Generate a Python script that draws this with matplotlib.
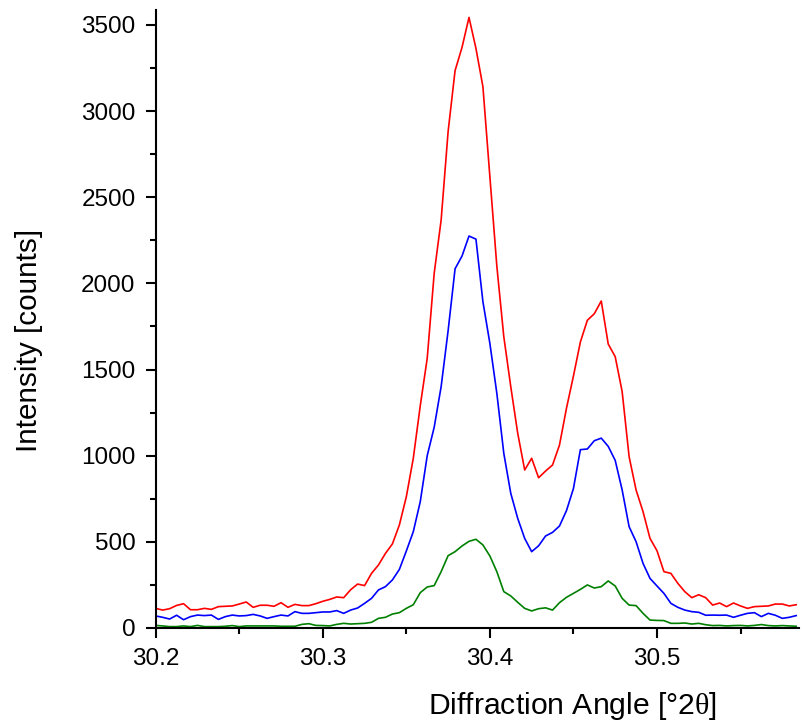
import numpy as np
import matplotlib
matplotlib.use("Agg")
import matplotlib.pyplot as plt
from matplotlib.ticker import MultipleLocator

# measurement grid: 30.2 deg 2theta, step 1/240 deg
two_theta = 30.2 + np.arange(93) / 240.0

red = [114, 104, 112, 131, 141, 106, 106, 114, 108, 124, 126, 128, 139, 151, 120, 132, 132, 126, 147, 120, 137,
       130, 130, 141, 155, 166, 180, 176, 222, 255, 246, 317, 366, 433, 488, 598, 762, 985, 1290, 1565, 2058,
       2368, 2881, 3235, 3370, 3544, 3364, 3142, 2620, 2100, 1691, 1401, 1130, 917, 985, 872, 911, 946, 1062, 1275, 1462,
       1660, 1786, 1824, 1898, 1648, 1575, 1372, 994, 801, 675, 520, 449, 327, 317, 259, 211, 176, 193, 176, 133,
       145, 124, 145, 128, 114, 124, 126, 128, 139, 139, 128, 135]

blue = [70, 62, 52, 74, 48, 66, 75, 72, 75, 50, 66, 75, 70, 72, 79, 70, 56, 66, 75, 70, 95,
        85, 85, 89, 93, 93, 101, 85, 104, 116, 143, 172, 221, 240, 279, 340, 447, 559, 733, 1000, 1165,
        1401, 1725, 2085, 2159, 2275, 2257, 1894, 1652, 1362, 1014, 782, 636, 520, 443, 477, 534, 555, 592, 681, 809,
        1035, 1039, 1087, 1102, 1054, 973, 801, 588, 501, 375, 288, 244, 201, 143, 120, 104, 95, 91, 74, 75,
        74, 75, 62, 74, 85, 89, 66, 85, 74, 56, 62, 72]

green = [15, 12, 8, 8, 12, 8, 15, 8, 8, 8, 10, 14, 8, 12, 12, 12, 12, 12, 10, 10, 10,
         21, 25, 15, 14, 12, 21, 27, 23, 25, 27, 33, 56, 62, 81, 89, 114, 135, 205, 238, 246,
         327, 420, 443, 476, 503, 515, 482, 418, 327, 211, 186, 149, 114, 99, 112, 117, 104, 147, 178, 201,
         224, 250, 232, 240, 273, 244, 172, 133, 130, 85, 46, 44, 43, 27, 27, 29, 23, 27, 19, 14,
         15, 12, 14, 15, 12, 15, 20, 14, 12, 14, 12, 10]

plt.rcParams['font.family'] = ['Liberation Sans', 'DejaVu Sans']
plt.rcParams['mathtext.fontset'] = 'custom'
plt.rcParams['mathtext.rm'] = 'Liberation Serif'

fig = plt.figure(figsize=(8.03, 7.24), dpi=100)
ax = fig.add_axes([0.1939, 0.1326, 0.8011, 0.8536])

ax.plot(two_theta, red, color='#ff0000', lw=1.2)
ax.plot(two_theta, blue, color='#0000ff', lw=1.2)
ax.plot(two_theta, green, color='#008000', lw=1.2)

ax.set_xlim(30.2, 30.585)
ax.set_ylim(0, 3587)

ax.xaxis.set_major_locator(MultipleLocator(0.1))
ax.xaxis.set_minor_locator(MultipleLocator(0.05))
ax.yaxis.set_major_locator(MultipleLocator(500))
ax.yaxis.set_minor_locator(MultipleLocator(250))
ax.xaxis.set_major_formatter(matplotlib.ticker.FormatStrFormatter('%.1f'))

for side in ['top', 'right']:
    ax.spines[side].set_visible(False)
for side in ['left', 'bottom']:
    ax.spines[side].set_linewidth(1.5)

ax.tick_params(which='major', direction='out', length=7.5, width=1.5, labelsize=17.5, pad=7)
ax.tick_params(which='minor', direction='out', length=4.5, width=1.5)

ax.set_xlabel(r'Diffraction Angle [°2$\mathrm{\theta}$]', fontsize=21.7)
ax.set_ylabel('Intensity [counts]', fontsize=21.4)
ax.xaxis.set_label_coords(0.6485, -0.1)
ax.yaxis.set_label_coords(-0.175, 0.466)

fig.savefig('out.png', dpi=100)
